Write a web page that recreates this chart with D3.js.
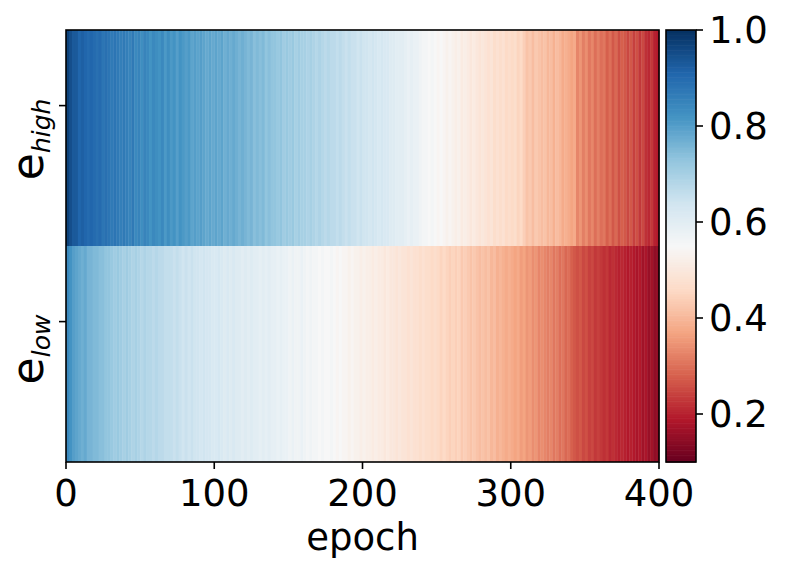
<!DOCTYPE html>
<html>
<head>
<meta charset="utf-8">
<script src="https://cdn.jsdelivr.net/npm/d3@7"></script>
<style>
  body { margin: 0; background: #fff; }
  text { font-family: "DejaVu Sans", sans-serif; fill: #000; }
</style>
</head>
<body>
<div class="chart"></div>
<script>
// each value covers 2 epochs (0-2, 2-4, ... 398-400)
const binEpochs = 2
const rowNames = ['high', 'low']

const eHigh = [
  0.97, 0.95, 0.93, 0.93, 0.91, 0.92, 0.91, 0.90, 0.91, 0.90,
  0.89, 0.90, 0.88, 0.89, 0.88, 0.87, 0.88, 0.87, 0.86, 0.87,
  0.86, 0.85, 0.87, 0.84, 0.85, 0.83, 0.85, 0.84, 0.82, 0.84,
  0.83, 0.82, 0.84, 0.81, 0.83, 0.81, 0.82, 0.80, 0.82, 0.81,
  0.80, 0.81, 0.79, 0.80, 0.79, 0.80, 0.79, 0.78, 0.79, 0.78,
  0.79, 0.78, 0.79, 0.77, 0.78, 0.77, 0.78, 0.77, 0.76, 0.77,
  0.76, 0.75, 0.76, 0.74, 0.75, 0.74, 0.75, 0.73, 0.74, 0.73,
  0.73, 0.72, 0.73, 0.71, 0.72, 0.71, 0.72, 0.70, 0.71, 0.70,
  0.70, 0.69, 0.70, 0.69, 0.68, 0.69, 0.68, 0.67, 0.68, 0.67,
  0.67, 0.66, 0.67, 0.66, 0.65, 0.66, 0.65, 0.65, 0.64, 0.65,
  0.64, 0.64, 0.63, 0.64, 0.63, 0.62, 0.63, 0.62, 0.62, 0.61,
  0.61, 0.60, 0.60, 0.60, 0.59, 0.58, 0.59, 0.58, 0.58, 0.57,
  0.56, 0.56, 0.55, 0.56, 0.55, 0.54, 0.55, 0.54, 0.53, 0.54,
  0.53, 0.52, 0.53, 0.51, 0.52, 0.51, 0.50, 0.51, 0.50, 0.49,
  0.50, 0.49, 0.48, 0.49, 0.47, 0.48, 0.47, 0.48, 0.46, 0.47,
  0.46, 0.47, 0.45, 0.46, 0.44, 0.42, 0.43, 0.41, 0.43, 0.42,
  0.41, 0.42, 0.40, 0.41, 0.39, 0.41, 0.40, 0.38, 0.39, 0.38,
  0.37, 0.38, 0.33, 0.35, 0.32, 0.34, 0.31, 0.33, 0.30, 0.32,
  0.30, 0.31, 0.28, 0.30, 0.27, 0.29, 0.26, 0.28, 0.27, 0.25,
  0.27, 0.24, 0.26, 0.23, 0.25, 0.22, 0.21, 0.23, 0.20, 0.19
]

const eLow = [
  0.84, 0.82, 0.80, 0.79, 0.78, 0.77, 0.78, 0.76, 0.76, 0.75,
  0.75, 0.74, 0.74, 0.73, 0.73, 0.72, 0.71, 0.72, 0.71, 0.70,
  0.71, 0.70, 0.69, 0.70, 0.69, 0.68, 0.69, 0.68, 0.68, 0.67,
  0.68, 0.67, 0.67, 0.66, 0.66, 0.66, 0.65, 0.66, 0.65, 0.64,
  0.65, 0.64, 0.65, 0.64, 0.64, 0.63, 0.64, 0.63, 0.63, 0.62,
  0.62, 0.63, 0.62, 0.61, 0.62, 0.61, 0.62, 0.61, 0.61, 0.60,
  0.61, 0.60, 0.61, 0.60, 0.60, 0.59, 0.60, 0.59, 0.60, 0.59,
  0.59, 0.58, 0.59, 0.58, 0.58, 0.57, 0.58, 0.57, 0.57, 0.58,
  0.57, 0.56, 0.57, 0.56, 0.56, 0.55, 0.56, 0.55, 0.55, 0.56,
  0.55, 0.54, 0.55, 0.54, 0.54, 0.53, 0.54, 0.53, 0.53, 0.52,
  0.53, 0.52, 0.52, 0.51, 0.52, 0.51, 0.51, 0.50, 0.51, 0.50,
  0.50, 0.49, 0.50, 0.49, 0.49, 0.48, 0.49, 0.48, 0.48, 0.47,
  0.48, 0.47, 0.47, 0.46, 0.47, 0.46, 0.45, 0.46, 0.45, 0.44,
  0.45, 0.44, 0.45, 0.43, 0.44, 0.43, 0.42, 0.43, 0.42, 0.41,
  0.42, 0.41, 0.42, 0.40, 0.41, 0.39, 0.40, 0.39, 0.38, 0.39,
  0.38, 0.37, 0.38, 0.36, 0.37, 0.35, 0.36, 0.34, 0.35, 0.33,
  0.34, 0.33, 0.32, 0.33, 0.31, 0.32, 0.30, 0.31, 0.29, 0.30,
  0.28, 0.27, 0.26, 0.27, 0.25, 0.26, 0.24, 0.25, 0.23, 0.24,
  0.23, 0.22, 0.23, 0.21, 0.22, 0.21, 0.20, 0.21, 0.20, 0.19,
  0.20, 0.19, 0.18, 0.19, 0.17, 0.18, 0.16, 0.17, 0.15, 0.15
]

const xTicks = [0, 100, 200, 300, 400]
const cbarTicks = [0.2, 0.4, 0.6, 0.8, 1.0]
// where the row tick marks sit, in row units (a bit above the row centre in the original)
const rowTickPos = [0.35, 1.35]

// matplotlib RdBu anchor colours
const rdbu = ['#67001f', '#b2182b', '#d6604d', '#f4a582', '#fddbc7', '#f7f7f7',
  '#d1e5f0', '#92c5de', '#4393c3', '#2166ac', '#053061']

const vmin = 0.1, vmax = 1.0

let svg = d3.select('.chart')
.append('svg')
.attr('width', 786)
.attr('height', 573)

let x = d3.scaleLinear()
.domain([0, 400])
.range([66, 659])

let y = d3.scaleLinear()
.domain([0, 2])
.range([30, 462])

let color = d3.scaleLinear()
.domain(d3.range(rdbu.length).map(i => vmin + (vmax - vmin) * i / (rdbu.length - 1)))
.range(rdbu)
.interpolate(d3.interpolateRgb)
.clamp(true)

let rows = [eHigh, eLow]

// heatmap cells
rows.forEach((vals, r) => {
	svg.append('g').selectAll('rect')
	.data(vals)
	.enter()
	.append('rect')
	.attr('x', (d, i) => x(i * binEpochs))
	.attr('y', y(r))
	.attr('width', x(binEpochs) - x(0) + 0.4)
	.attr('height', y(r + 1) - y(r))
	.attr('fill', d => color(d))
})

// frame
svg.append('rect')
.attr('x', x(0)).attr('y', y(0))
.attr('width', x(400) - x(0)).attr('height', y(2) - y(0))
.attr('fill', 'none').attr('stroke', '#000').attr('stroke-width', 1.6)

// x axis
let xAxis = svg.append('g')
xAxis.selectAll('line')
.data(xTicks)
.enter()
.append('line')
.attr('x1', d => x(d)).attr('x2', d => x(d))
.attr('y1', y(2)).attr('y2', y(2) + 7)
.attr('stroke', '#000').attr('stroke-width', 1.6)

xAxis.selectAll('text')
.data(xTicks)
.enter()
.append('text')
.attr('x', d => x(d))
.attr('y', 506)
.attr('text-anchor', 'middle')
.style('font-size', '37px')
.text(d => d)

svg.append('text')
.attr('x', (x(0) + x(400)) / 2)
.attr('y', 550)
.attr('text-anchor', 'middle')
.style('font-size', '37px')
.text('epoch')

// y ticks + labels
let yAxis = svg.append('g')
yAxis.selectAll('line')
.data(rowTickPos)
.enter()
.append('line')
.attr('x1', x(0) - 7).attr('x2', x(0))
.attr('y1', d => y(d)).attr('y2', d => y(d))
.attr('stroke', '#000').attr('stroke-width', 1.6)

rowNames.forEach((name, i) => {
	let t = svg.append('text')
	.attr('transform', 'translate(43,' + (y(rowTickPos[i]) - 7) + ') rotate(-90)')
	.attr('text-anchor', 'end')
	.style('font-size', '44px')
	t.append('tspan').text('e')
	t.append('tspan')
	.attr('dy', 7)
	.style('font-size', '25px')
	.style('font-style', 'italic')
	.text(name)
})

// colorbar
let cbX = 666, cbW = 30
let cy = d3.scaleLinear()
.domain([vmin, vmax])
.range([462, 30])

let steps = d3.range(0, 256)
svg.append('g').selectAll('rect')
.data(steps)
.enter()
.append('rect')
.attr('x', cbX)
.attr('width', cbW)
.attr('y', d => cy(vmin + (vmax - vmin) * (d + 1) / 256))
.attr('height', (cy(vmin) - cy(vmax)) / 256 + 0.6)
.attr('fill', d => color(vmin + (vmax - vmin) * (d + 0.5) / 256))

svg.append('rect')
.attr('x', cbX).attr('y', cy(vmax))
.attr('width', cbW).attr('height', cy(vmin) - cy(vmax))
.attr('fill', 'none').attr('stroke', '#000').attr('stroke-width', 1.6)

let cbAxis = svg.append('g')
cbAxis.selectAll('line')
.data(cbarTicks)
.enter()
.append('line')
.attr('x1', cbX + cbW).attr('x2', cbX + cbW + 7)
.attr('y1', d => cy(d)).attr('y2', d => cy(d))
.attr('stroke', '#000').attr('stroke-width', 1.6)

cbAxis.selectAll('text')
.data(cbarTicks)
.enter()
.append('text')
.attr('x', cbX + cbW + 13)
.attr('y', d => cy(d))
.attr('dy', '0.36em')
.style('font-size', '37px')
.text(d => d.toFixed(1))
</script>
</body>
</html>
